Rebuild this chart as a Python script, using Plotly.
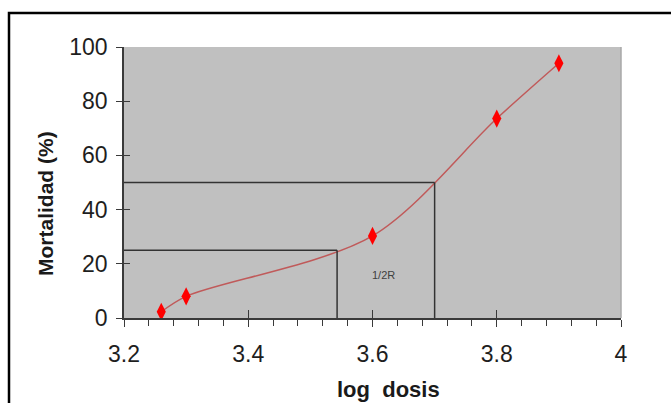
import plotly.graph_objects as go

# Dose-mortality data
log_dosis = [3.26, 3.30, 3.60, 3.80, 3.90]
mortalidad = [2.3, 8.0, 30.3, 73.6, 94.0]

# Reference levels (mortality %) and the log doses where the curve reaches them
niveles = [25, 50]
dosis_nivel = [3.543, 3.70]

x_min, x_max = 3.2, 4.0
y_min, y_max = 0, 100

W, H = 671, 403
L, R, T, B = 124, 50, 47, 85
pw, ph = W - L - R, H - T - B


def px_to_paper(px, py):
    return (px - L) / pw, (H - B - py) / ph


font = "Liberation Sans, Arial, sans-serif"
axis_col = "#3a3a3a"

fig = go.Figure()

# fitted curve
fig.add_trace(go.Scatter(
    x=log_dosis, y=mortalidad, mode="lines",
    line=dict(color="#c05a5a", width=1.5, shape="spline", smoothing=0.9),
    hoverinfo="skip", showlegend=False,
))
# observed points
fig.add_trace(go.Scatter(
    x=log_dosis, y=mortalidad, mode="markers",
    marker=dict(symbol="diamond-tall", size=13, color="#ff0000",
                line=dict(width=0)),
    showlegend=False,
))

# guide lines from the axes to the curve
for lvl, d in zip(niveles, dosis_nivel):
    fig.add_shape(type="line", x0=x_min, x1=d, y0=lvl, y1=lvl,
                  line=dict(color="#333333", width=1.5))
    fig.add_shape(type="line", x0=d, x1=d, y0=y_min, y1=lvl,
                  line=dict(color="#333333", width=1.5))

fig.add_annotation(x=3.618, y=16, text="1/2R", showarrow=False,
                   font=dict(family=font, size=11, color="#404040"))

# axis titles
tx, ty = px_to_paper(46, 204)
fig.add_annotation(xref="paper", yref="paper", x=tx, y=ty,
                   xanchor="center", yanchor="middle",
                   text="<b>Mortalidad (%)</b>", textangle=-90,
                   showarrow=False,
                   font=dict(family=font, size=21, color="#1a1a1a"))
lx, ly = px_to_paper(388, 389)
fig.add_annotation(xref="paper", yref="paper", x=lx, y=ly,
                   xanchor="center", yanchor="middle",
                   text="<b>log\u00a0 dosis</b>", showarrow=False,
                   font=dict(family=font, size=22, color="#1a1a1a"))

# outer frame
fx0, fy1 = px_to_paper(9, 13)
fx1, fy0 = px_to_paper(700, 430)
fig.add_shape(type="rect", xref="paper", yref="paper",
              x0=fx0, x1=fx1, y0=fy0, y1=fy1,
              line=dict(color="black", width=2.5), layer="above")

# faint right edge of the plot area
fig.add_shape(type="line", xref="paper", yref="paper", x0=1, x1=1, y0=0, y1=1,
              line=dict(color="#a8a8a8", width=1.5))

tick_font = dict(family=font, size=23, color="#1e1e1e")

fig.update_layout(
    width=W, height=H,
    margin=dict(l=L, r=R, t=T, b=B),
    paper_bgcolor="white",
    plot_bgcolor="#c0c0c0",
    showlegend=False,
    xaxis=dict(
        range=[x_min, x_max], dtick=0.2, tick0=3.2,
        showgrid=False, zeroline=False,
        showline=True, linecolor=axis_col, linewidth=1.5,
        ticks="outside", ticklen=7, tickwidth=1.2, tickcolor=axis_col,
        minor=dict(dtick=0.04, ticks="outside", ticklen=6,
                   tickwidth=1, tickcolor=axis_col, showgrid=False),
        tickfont=tick_font, ticklabelstandoff=8,
    ),
    yaxis=dict(
        range=[y_min, y_max], dtick=20,
        showgrid=False, zeroline=False,
        showline=True, linecolor=axis_col, linewidth=1.5,
        ticks="outside", ticklen=6, tickwidth=1.2, tickcolor=axis_col,
        tickfont=tick_font, ticklabelstandoff=4,
    ),
    # companion axes drawing the inner half of the crossing major ticks
    xaxis2=dict(
        overlaying="x", anchor="y", side="bottom",
        range=[x_min, x_max], dtick=0.2, tick0=3.2,
        showgrid=False, zeroline=False, showline=False,
        ticks="inside", ticklen=8, tickwidth=1.2, tickcolor=axis_col,
        showticklabels=False,
    ),
    yaxis2=dict(
        overlaying="y", anchor="x", side="left",
        range=[y_min, y_max], dtick=20,
        showgrid=False, zeroline=False, showline=False,
        ticks="inside", ticklen=6, tickwidth=1.2, tickcolor=axis_col,
        showticklabels=False,
    ),
)

# invisible trace so the companion axes are rendered
fig.add_trace(go.Scatter(x=[x_min], y=[y_min], xaxis="x2", yaxis="y2",
                         mode="markers", marker=dict(opacity=0),
                         hoverinfo="skip", showlegend=False))

fig.write_html("out.html")
